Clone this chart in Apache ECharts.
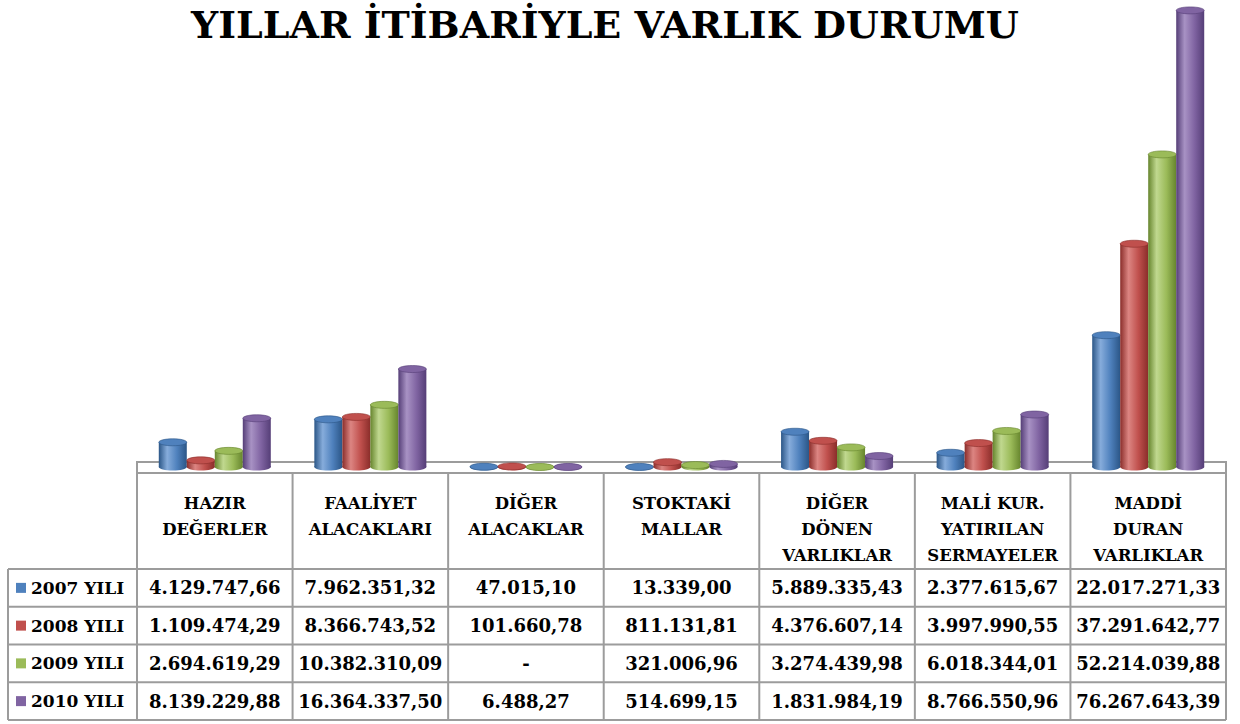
<!DOCTYPE html>
<html>
<head>
<meta charset="utf-8">
<script src="https://cdn.jsdelivr.net/npm/echarts@6/dist/echarts.min.js"></script>
<style>
  html, body { margin: 0; padding: 0; background: #fff; }
  #chart { width: 1240px; height: 724px; }
</style>
</head>
<body>
<div id="chart"></div>
<script>
var categories = ['HAZIR\nDEĞERLER', 'FAALİYET\nALACAKLARI', 'DİĞER\nALACAKLAR', 'STOKTAKİ\nMALLAR',
  'DİĞER\nDÖNEN\nVARLIKLAR', 'MALİ KUR.\nYATIRILAN\nSERMAYELER', 'MADDİ\nDURAN\nVARLIKLAR']
var years = ['2007 YILI', '2008 YILI', '2009 YILI', '2010 YILI']
var v2007 = [4129747.66, 7962351.32, 47015.10, 13339.00, 5889335.43, 2377615.67, 22017271.33]
var v2008 = [1109474.29, 8366743.52, 101660.78, 811131.81, 4376607.14, 3997990.55, 37291642.77]
var v2009 = [2694619.29, 10382310.09, 0, 321006.96, 3274439.98, 6018344.01, 52214039.88]
var v2010 = [8139229.88, 16364337.50, 6488.27, 514699.15, 1831984.19, 8766550.96, 76267643.39]
var values = [v2007, v2008, v2009, v2010]

// renk: [ana, koyu, açık]
var colors = [
  ['#4F81BD', '#2B5687', '#86ACDB'],
  ['#C0504D', '#8A2D2A', '#DC8582'],
  ['#9BBB59', '#66852D', '#C0D88F'],
  ['#8064A2', '#553E77', '#A892C4']
]

var FONT = 'DejaVu Serif'
var GRID_LEFT = 137, GRID_RIGHT = 14, GRID_TOP = 6, GRID_BOTTOM = 257
var GRID_W = 1240 - GRID_LEFT - GRID_RIGHT
var BASE_Y = 724 - GRID_BOTTOM

// 1.234.567,89 biçimi
function fmt(v) {
  if (!v) return '-'
  var p = v.toFixed(2).split('.')
  return p[0].replace(/\B(?=(\d{3})+(?!\d))/g, '.') + ',' + p[1]
}

function cylinder(si) {
  var c = colors[si]
  return function (params, api) {
    var base = api.coord([api.value(0), 0])
    var top = api.coord([api.value(0), api.value(1)])
    var band = api.size([1, 0])[0]
    var w = band * 0.18
    var cx = base[0] + (si - 1.5) * w
    var x = cx - w / 2
    var ry = 3.5
    var grad = {
      type: 'linear', x: 0, y: 0, x2: 1, y2: 0,
      colorStops: [
        { offset: 0, color: c[1] },
        { offset: 0.3, color: c[2] },
        { offset: 0.65, color: c[0] },
        { offset: 1, color: c[1] }
      ]
    }
    return {
      type: 'group',
      children: [
        { type: 'ellipse', shape: { cx: cx, cy: base[1], rx: w / 2, ry: ry }, style: { fill: grad } },
        { type: 'rect', shape: { x: x, y: top[1], width: w, height: base[1] - top[1] }, style: { fill: grad } },
        { type: 'ellipse', shape: { cx: cx, cy: top[1], rx: w / 2, ry: ry }, style: { fill: c[0], stroke: c[1], lineWidth: 0.6 } }
      ]
    }
  }
}

// tablo
var LINE = '#9c9c9c'
var ROW_TOP = 569, ROW_H = 37.75, LEFT_X = 8
var bandW = GRID_W / categories.length
var graphics = []

// zemin
graphics.push({ type: 'rect', z: 0, shape: { x: GRID_LEFT, y: BASE_Y - 5, width: GRID_W, height: 11 },
  style: { fill: '#fff', stroke: LINE, lineWidth: 2 } })

var tableBottom = ROW_TOP + ROW_H * years.length
for (var k = 0; k <= categories.length; k++) {
  var xx = GRID_LEFT + bandW * k
  graphics.push({ type: 'line', shape: { x1: xx, y1: BASE_Y + 6, x2: xx, y2: tableBottom }, style: { stroke: LINE, lineWidth: 2 } })
}
graphics.push({ type: 'line', shape: { x1: LEFT_X, y1: ROW_TOP, x2: LEFT_X, y2: tableBottom }, style: { stroke: LINE, lineWidth: 2 } })
for (var r = 0; r <= years.length; r++) {
  var yy = ROW_TOP + ROW_H * r
  graphics.push({ type: 'line', shape: { x1: LEFT_X, y1: yy, x2: GRID_LEFT + GRID_W, y2: yy }, style: { stroke: LINE, lineWidth: 2 } })
}
years.forEach(function (yName, r) {
  var cy = ROW_TOP + ROW_H * (r + 0.5)
  graphics.push({ type: 'rect', shape: { x: 16, y: cy - 5, width: 10, height: 10 }, style: { fill: colors[r][0] } })
  graphics.push({ type: 'text', x: 31, y: cy, style: { text: yName, font: 'bold 17px "' + FONT + '"', fill: '#000', verticalAlign: 'middle', align: 'left' } })
  values[r].forEach(function (v, ci) {
    graphics.push({ type: 'text', x: GRID_LEFT + bandW * (ci + 0.5), y: cy,
      style: { text: fmt(v), font: 'bold 18px "' + FONT + '"', fill: '#000', verticalAlign: 'middle', align: 'center' } })
  })
})

var chart = echarts.init(document.getElementById('chart'), null, { renderer: 'svg' })

var series = values.map(function (arr, si) {
  return {
    name: years[si],
    type: 'custom',
    renderItem: cylinder(si),
    encode: { x: 0, y: 1 },
    data: arr.map(function (v, i) { return [i, v] }),
    z: 5
  }
})

chart.setOption({
  animation: false,
  title: {
    text: 'YILLAR İTİBARİYLE VARLIK DURUMU',
    left: 600, textAlign: 'center', top: 0,
    textStyle: { fontFamily: FONT, fontWeight: 'bold', fontSize: 38, color: '#000' }
  },
  grid: { left: GRID_LEFT, right: GRID_RIGHT, top: GRID_TOP, bottom: GRID_BOTTOM, containLabel: false },
  xAxis: {
    type: 'category',
    data: categories,
    axisLine: { show: false },
    axisTick: { show: false },
    axisLabel: {
      interval: 0, margin: 23, color: '#000',
      fontFamily: FONT, fontWeight: 'bold', fontSize: 16.5, lineHeight: 26,
      verticalAlign: 'top'
    }
  },
  yAxis: { type: 'value', min: 0, max: 77000000, show: false, splitLine: { show: false } },
  graphic: graphics,
  series: series
})
</script>
</body>
</html>
